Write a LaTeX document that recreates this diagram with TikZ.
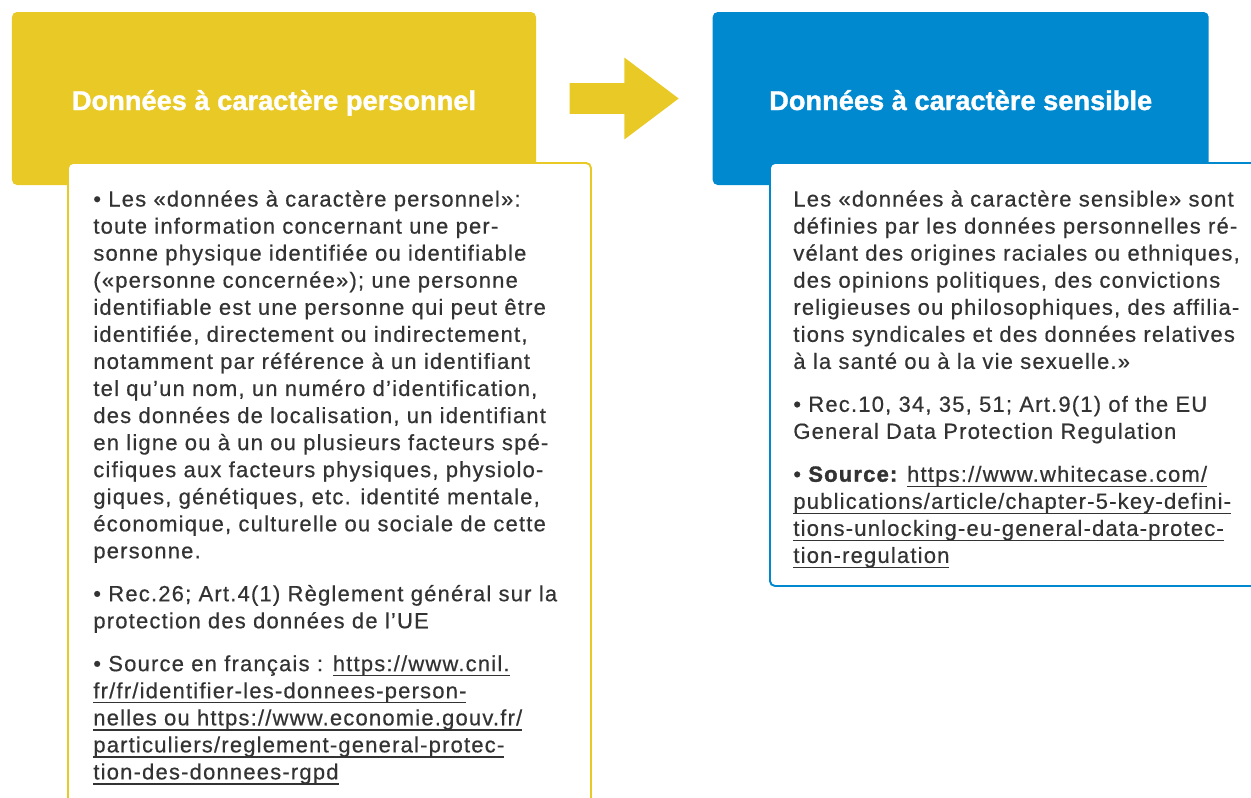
\documentclass[tikz,border=0pt]{standalone}
\usepackage{fontspec}
\setmainfont{Liberation Sans}[BoldFeatures={FakeBold=1.2}]
\newfontfamily\corpsfont[LetterSpace=5.5, FakeBold=0.5, BoldFeatures={FakeBold=1.5}]{Liberation Sans}
\usepackage{tikz}
\usetikzlibrary{positioning, shapes.arrows}
\definecolor{jaune}{RGB}{233, 201, 38}
\definecolor{bleu}{RGB}{0, 137, 207}
\definecolor{gris}{RGB}{51, 51, 51}
\newsavebox\lienbox
\newcommand{\lien}[1]{\sbox\lienbox{#1}\rlap{\rule[-3pt]{\wd\lienbox}{0.8pt}}\usebox\lienbox}

\begin{document}
\begin{tikzpicture}[
    titre/.style={rectangle, rounded corners=0.1cm, minimum height=3.46cm, text height=0.5cm, text depth=0.04cm,
                  text=white, font=\bfseries\fontsize{15.5}{18}\selectfont},
    cadre/.style={rectangle, rounded corners=0.1cm, fill=white, line width=1.1pt, anchor=north west},
    corps/.style={align=left, inner sep=0pt, text=gris, font=\corpsfont\fontsize{12.5}{15.4}\selectfont},
    fleche/.style={single arrow, fill=jaune, inner xsep=0pt, inner ysep=0.3cm, minimum height=2.18cm,
                   minimum width=1.62cm, single arrow head extend=0.51cm, single arrow tip angle=74}
]
\useasboundingbox (0,0) rectangle (25.02,-15.96);
\clip (0,0) rectangle (25.02,-15.96);

\node[titre, fill=jaune, minimum width=10.48cm] (perso) at (5.48,-1.97) {Données à caractère personnel};
\node[titre, fill=bleu, minimum width=9.92cm, right=3.52cm of perso] (sensible) {Données à caractère sensible};
\node[fleche, right=0.66cm of perso] (f) {};

\node[cadre, draw=jaune, minimum width=10.46cm, minimum height=13cm] (cadrePerso) at (1.34,-3.24) {};
\node[cadre, draw=bleu, minimum width=10.8cm, minimum height=8.46cm] (cadreSens) at (15.38,-3.24) {};

\node[corps, below right=0.56cm and 0.52cm of cadrePerso.north west] (txtPerso) {%
• Les «données à caractère personnel»:\\
toute information concernant une per-\\
sonne physique identifiée ou identifiable\\
(«personne concernée»); une personne\\
identifiable est une personne qui peut être\\
identifiée, directement ou indirectement,\\
notamment par référence à un identifiant\\
tel qu’un nom, un numéro d’identification,\\
des données de localisation, un identifiant\\
en ligne ou à un ou plusieurs facteurs spé-\\
cifiques aux facteurs physiques, physiolo-\\
giques, génétiques, etc. identité mentale,\\
économique, culturelle ou sociale de cette\\
personne.\\[9pt]
• Rec.26; Art.4(1) Règlement général sur la\\
protection des données de l’UE\\[9pt]
• Source en français : \lien{https://www.cnil.}\\
\lien{fr/fr/identifier-les-donnees-person-}\\
\lien{nelles ou https://www.economie.gouv.fr/}\\
\lien{particuliers/reglement-general-protec-}\\
\lien{tion-des-donnees-rgpd}};

\node[corps, below right=0.56cm and 0.48cm of cadreSens.north west] (txtSens) {%
Les «données à caractère sensible» sont\\
définies par les données personnelles ré-\\
vélant des origines raciales ou ethniques,\\
des opinions politiques, des convictions\\
religieuses ou philosophiques, des affilia-\\
tions syndicales et des données relatives\\
à la santé ou à la vie sexuelle.»\\[9pt]
• Rec.10, 34, 35, 51; Art.9(1) of the EU\\
General Data Protection Regulation\\[9pt]
• {\bfseries Source:} \lien{https://www.whitecase.com/}\\
\lien{publications/article/chapter-5-key-defini-}\\
\lien{tions-unlocking-eu-general-data-protec-}\\
\lien{tion-regulation}};

\end{tikzpicture}
\end{document}
